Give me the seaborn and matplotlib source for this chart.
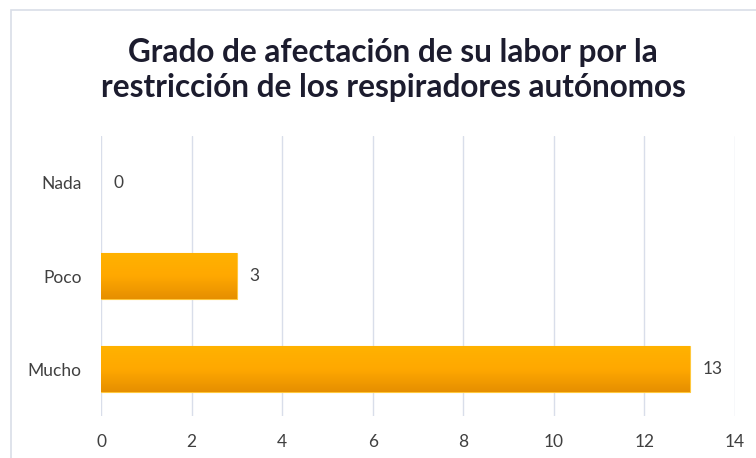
import numpy as np
import seaborn as sns
import matplotlib.pyplot as plt
from matplotlib.patches import Rectangle
from matplotlib.colors import LinearSegmentedColormap

# datos
categorias = ['Nada', 'Poco', 'Mucho']
valores = [0, 3, 13]
titulo = 'Grado de afectación de su labor por la\nrestricción de los respiradores autónomos'

sns.set_theme(style='white')
plt.rcParams['font.family'] = ['Lato', 'DejaVu Sans']

fig = plt.figure(figsize=(7.56, 4.58), dpi=100)
ax = fig.add_axes([0.1336, 0.0917, 0.8386, 0.6113])

sns.barplot(x=valores, y=categorias, orient='h', color='#FFB000',
            width=0.49, edgecolor='#FFC83D', linewidth=0.8, ax=ax, zorder=3)

# degradado vertical dentro de cada barra
grad = np.linspace(0, 1, 100).reshape(-1, 1)
cmap = LinearSegmentedColormap.from_list('naranja', ['#FFB200', '#FFA800', '#E68F00'])
for p in ax.patches:
    if p.get_width() <= 0:
        p.set_edgecolor('none')  # barra vacía sin borde
        continue
    x0, y0 = p.get_x(), p.get_y()
    im = ax.imshow(grad, cmap=cmap, aspect='auto', zorder=3.5,
                   extent=[x0, x0 + p.get_width(), y0 + p.get_height(), y0])
    im.set_clip_path(p)

ax.bar_label(ax.containers[0], labels=[str(v) for v in valores], padding=9,
             fontsize=12.5, color='#404040')

ax.set_xlim(0, 14)
ax.set_ylim(2.5, -0.5)
ax.set_xticks(range(0, 15, 2))
ax.set_xlabel('')
ax.set_ylabel('')
ax.tick_params(axis='x', length=0, pad=13, labelsize=12.5, labelcolor='#404040')
ax.tick_params(axis='y', length=0, pad=14, labelsize=12.5, labelcolor='#404040')
ax.grid(axis='x', color='#D9DEEA', linewidth=1, zorder=0)
ax.grid(axis='y', visible=False)
sns.despine(ax=ax, left=True, bottom=True)

fig.text(0.52, 0.847, titulo, ha='center', va='center', fontsize=22.7,
         fontweight='bold', color='#1C1C2E', linespacing=1.25)

# borde del gráfico
fig.patches.append(Rectangle((11 / 756, -0.1), 1.1, 1 - 10 / 458 + 0.1,
                             transform=fig.transFigure, fill=False,
                             edgecolor='#D9DEE8', linewidth=1.2))

fig.savefig('out.png', dpi=100)
